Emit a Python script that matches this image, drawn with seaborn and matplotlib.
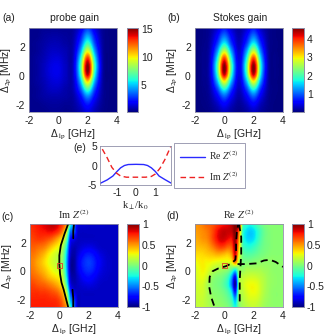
import numpy as np
import seaborn as sns
import matplotlib
matplotlib.use('Agg')
import matplotlib.pyplot as plt

# axis grids of the maps
x_coarse = [-2, -1.5, -1, -0.5, 0, 0.5, 1, 1.5, 2, 2.5, 3, 3.5, 4]
x_fine = [-2, -1.75, -1.5, -1.25, -1, -0.75, -0.5, -0.25, 0, 0.25, 0.5, 0.75, 1, 1.25, 1.5, 1.75, 2, 2.25, 2.5, 2.75, 3, 3.25, 3.5, 3.75, 4]
y_rows = [3.3, 2.77, 2.25, 1.72, 1.19, 0.66, 0.14, -0.39, -0.92, -1.45, -1.97, -2.5]

probe_gain = [
    [0.4, 0.4, 0.5, 0.5, 0.5, 0.5, 0.6, 1.5, 3.0, 1.5, 0.5, 0.3, 0.3],
    [0.4, 0.4, 0.6, 0.7, 0.7, 0.6, 0.7, 2.2, 4.5, 2.2, 0.6, 0.3, 0.3],
    [0.4, 0.5, 0.7, 0.9, 0.9, 0.7, 0.8, 3.0, 6.5, 3.0, 0.7, 0.3, 0.3],
    [0.4, 0.5, 0.8, 1.1, 1.1, 0.9, 0.9, 4.2, 9.5, 4.2, 0.8, 0.3, 0.3],
    [0.4, 0.6, 0.9, 1.3, 1.4, 1.0, 1.0, 5.6, 13.2, 5.6, 0.9, 0.3, 0.3],
    [0.4, 0.6, 1.0, 1.5, 1.6, 1.1, 1.1, 6.4, 15.2, 6.4, 1.0, 0.3, 0.3],
    [0.4, 0.6, 1.0, 1.5, 1.6, 1.1, 1.1, 6.0, 14.6, 5.8, 0.9, 0.3, 0.3],
    [0.4, 0.6, 0.9, 1.3, 1.4, 1.0, 1.0, 4.6, 10.5, 4.4, 0.8, 0.3, 0.3],
    [0.4, 0.5, 0.8, 1.1, 1.1, 0.8, 0.9, 3.2, 6.8, 3.0, 0.7, 0.3, 0.3],
    [0.4, 0.5, 0.7, 0.8, 0.8, 0.7, 0.7, 2.0, 4.0, 2.0, 0.6, 0.3, 0.3],
    [0.4, 0.4, 0.5, 0.6, 0.6, 0.5, 0.6, 1.3, 2.4, 1.3, 0.5, 0.3, 0.3],
    [0.4, 0.4, 0.4, 0.5, 0.5, 0.4, 0.5, 0.9, 1.5, 0.9, 0.4, 0.3, 0.3],
]

stokes_gain = [
    [0.03, 0.05, 0.12, 0.35, 0.7, 0.35, 0.15, 0.35, 0.7, 0.3, 0.1, 0.04, 0.03],
    [0.03, 0.05, 0.14, 0.55, 1.1, 0.55, 0.2, 0.55, 1.1, 0.5, 0.12, 0.04, 0.03],
    [0.03, 0.06, 0.18, 0.8, 1.7, 0.8, 0.25, 0.8, 1.7, 0.75, 0.14, 0.05, 0.03],
    [0.03, 0.07, 0.22, 1.2, 2.7, 1.25, 0.32, 1.25, 2.7, 1.1, 0.17, 0.05, 0.03],
    [0.03, 0.08, 0.27, 1.65, 3.9, 1.7, 0.4, 1.7, 3.9, 1.5, 0.2, 0.06, 0.03],
    [0.03, 0.08, 0.3, 1.95, 4.6, 2.0, 0.45, 2.0, 4.6, 1.75, 0.22, 0.06, 0.03],
    [0.03, 0.08, 0.3, 1.8, 4.4, 1.85, 0.42, 1.85, 4.4, 1.6, 0.2, 0.06, 0.03],
    [0.03, 0.07, 0.24, 1.35, 3.0, 1.35, 0.34, 1.35, 3.0, 1.2, 0.17, 0.05, 0.03],
    [0.03, 0.06, 0.18, 0.85, 1.8, 0.85, 0.25, 0.85, 1.8, 0.75, 0.14, 0.05, 0.03],
    [0.03, 0.05, 0.13, 0.5, 1.0, 0.5, 0.18, 0.5, 1.0, 0.45, 0.1, 0.04, 0.03],
    [0.03, 0.04, 0.09, 0.28, 0.55, 0.28, 0.12, 0.28, 0.55, 0.25, 0.08, 0.03, 0.03],
    [0.03, 0.03, 0.06, 0.16, 0.3, 0.16, 0.08, 0.16, 0.3, 0.15, 0.06, 0.03, 0.03],
]

im_z2 = [
    [.72, .75, .78, .80, .83, .87, .90, .88, .80, .68, .45, -.20, -.50, -.80, -.85, -.85, -.87, -.87, -.87, -.87, -.87, -.88, -.88, -.88, -.88],
    [.70, .72, .75, .77, .78, .80, .80, .76, .68, .52, .20, -.50, -.55, -.85, -.88, -.88, -.88, -.88, -.88, -.88, -.88, -.88, -.88, -.88, -.88],
    [.66, .68, .70, .70, .68, .65, .60, .52, .42, .28, -.05, -.70, -.80, -.88, -.88, -.88, -.88, -.88, -.88, -.88, -.88, -.88, -.88, -.88, -.88],
    [.62, .62, .60, .58, .55, .48, .40, .33, .26, .10, -.25, -.80, -.90, -.88, -.85, -.83, -.82, -.83, -.85, -.87, -.88, -.88, -.88, -.88, -.88],
    [.57, .57, .53, .48, .42, .33, .26, .20, .15, .02, -.35, -.85, -.93, -.85, -.78, -.72, -.70, -.72, -.77, -.82, -.85, -.87, -.88, -.88, -.88],
    [.55, .53, .47, .42, .35, .28, .22, .17, .12, .00, -.40, -.90, -.95, -.82, -.72, -.66, -.63, -.66, -.72, -.78, -.83, -.86, -.87, -.88, -.88],
    [.57, .55, .50, .45, .40, .33, .27, .22, .18, .05, -.38, -.90, -.95, -.83, -.74, -.68, -.66, -.68, -.74, -.80, -.84, -.86, -.87, -.88, -.88],
    [.62, .60, .57, .53, .48, .42, .37, .33, .28, .12, -.30, -.85, -.93, -.87, -.80, -.75, -.73, -.76, -.80, -.84, -.86, -.87, -.88, -.88, -.88],
    [.68, .67, .64, .62, .60, .56, .52, .47, .40, .25, -.15, -.78, -.90, -.88, -.85, -.83, -.82, -.83, -.85, -.87, -.88, -.88, -.88, -.88, -.88],
    [.72, .72, .72, .70, .70, .68, .65, .62, .55, .42, .10, -.60, -.82, -.88, -.88, -.88, -.88, -.88, -.88, -.88, -.88, -.88, -.88, -.88, -.88],
    [.75, .75, .75, .75, .75, .74, .73, .72, .67, .55, .30, -.40, -.60, -.88, -.88, -.88, -.88, -.88, -.88, -.88, -.88, -.88, -.88, -.88, -.88],
    [.76, .76, .76, .76, .76, .76, .76, .75, .72, .62, .45, -.20, -.50, -.88, -.88, -.88, -.88, -.88, -.88, -.88, -.88, -.88, -.88, -.88, -.88],
]

re_z2 = [
    [.50, .52, .55, .60, .62, .65, .70, .75, .78, .82, .90, 1.0, 1.0, -.05, -.20, -.25, -.20, -.12, -.05, .00, .02, .03, .03, .03, .03],
    [.48, .50, .52, .55, .60, .68, .78, .85, .88, .87, .88, .98, .60, -.15, -.30, -.35, -.32, -.22, -.12, -.04, .00, .02, .03, .03, .03],
    [.45, .47, .50, .52, .58, .68, .78, .85, .85, .80, .78, .95, .50, -.15, -.30, -.33, -.30, -.20, -.10, -.03, .00, .02, .03, .03, .03],
    [.42, .42, .43, .45, .50, .57, .65, .70, .68, .62, .65, .92, .40, -.10, -.20, -.22, -.18, -.12, -.06, -.02, .00, .02, .03, .03, .03],
    [.35, .35, .36, .38, .40, .42, .45, .45, .42, .40, .50, .85, .30, -.03, -.10, -.10, -.08, -.05, -.02, .00, .02, .03, .03, .03, .03],
    [.28, .30, .32, .30, .30, .28, .26, .25, .25, .25, .30, .60, .15, .00, .00, .00, .02, .03, .04, .05, .05, .05, .04, .04, .04],
    [.22, .27, .30, .28, .22, .15, .12, .10, .08, .05, -.05, -.20, .05, .05, .10, .10, .10, .10, .10, .08, .07, .05, .04, .04, .04],
    [.20, .25, .27, .22, .12, .05, .02, .00, -.05, -.15, -.40, -.75, .05, .15, .18, .20, .20, .18, .15, .12, .08, .06, .05, .04, .04],
    [.18, .22, .22, .15, .07, .02, .00, -.03, -.10, -.22, -.50, -.95, .05, .18, .25, .28, .28, .25, .18, .13, .08, .06, .05, .04, .04],
    [.17, .20, .20, .15, .08, .03, .02, .00, -.04, -.12, -.30, -.70, .05, .15, .22, .27, .28, .25, .18, .12, .08, .05, .04, .04, .04],
    [.17, .18, .18, .14, .10, .06, .04, .03, .00, -.05, -.15, -.40, .02, .12, .18, .22, .22, .20, .15, .10, .07, .05, .04, .04, .04],
    [.16, .17, .17, .14, .11, .08, .06, .05, .03, .00, -.08, -.25, .00, .10, .14, .17, .18, .16, .12, .08, .06, .05, .04, .04, .04],
]

# contour lines
c_line1_x = [0.6, 0.35, 0.1, 0.0, 0.0, 0.05, 0.15, 0.3, 0.45, 0.6]
c_line1_y = [3.3, 2.6, 1.8, 1.1, 0.5, -0.2, -0.8, -1.3, -1.9, -2.5]
c_line2_x = [1.0, 0.95, 0.95]
c_line2_y = [3.3, 2.8, 2.3]
c_line3_x = [0.9, 0.95, 0.95]
c_line3_y = [-1.3, -1.9, -2.5]

d_line1_x = [-0.7, -0.9, -1.03, -1.0, -0.8, -0.4, 0.1, 0.5, 0.75, 0.8, 0.8, 0.85, 0.95]
d_line1_y = [-2.4, -1.8, -1.1, -0.4, 0.0, 0.2, 0.35, 0.55, 0.8, 1.4, 2.0, 2.7, 3.3]
d_line2_x = [1.0, 1.15, 1.15, 1.1, 1.05, 1.05, 1.05]
d_line2_y = [3.3, 2.4, 1.2, 0.3, -0.6, -1.5, -2.4]
d_line3_x = [0.9, 1.5, 2.2, 2.7, 3.1, 3.5, 4.0]
d_line3_y = [0.5, 0.5, 0.55, 0.75, 0.8, 0.65, 0.3]

marker_x = [0.0]
marker_y = [0.42]

# panel (e)
k_re = [-1.87, -1.5, -1.2, -1.0, -0.8, -0.6, -0.4, 0, 0.4, 0.6, 0.8, 1.0, 1.2, 1.5, 1.82]
re_vals = [-4.6, -3.7, -2.7, -1.6, -0.6, 0.0, 0.25, 0.3, 0.25, 0.0, -0.6, -1.5, -2.7, -3.6, -4.5]
k_im = [-1.75, -1.5, -1.25, -1.0, -0.8, -0.5, 0, 0.5, 0.8, 1.0, 1.25, 1.5, 1.82]
im_vals = [4.2, 2.0, -0.5, -2.0, -2.7, -3.0, -3.0, -3.0, -2.8, -2.2, -0.7, 1.5, 5.0]

WIDTH, HEIGHT = 326, 336
SPINE = '#8f8fa8'
SANS = 'Liberation Sans'
SERIF = 'Liberation Serif'
DASHED = (0, (4, 2.5))

sns.set_theme(style='white')
plt.rcParams['font.family'] = [SANS, 'DejaVu Sans']
plt.rcParams['axes.unicode_minus'] = False
plt.rcParams['mathtext.fontset'] = 'stix'
plt.rcParams['font.size'] = 7.5


def box(left, top, right, bottom):
    return [left / WIDTH, 1 - bottom / HEIGHT, (right - left) / WIDTH, (bottom - top) / HEIGHT]


fig = plt.figure(figsize=(WIDTH / 100, HEIGHT / 100), dpi=100)


def draw_map(rect, cbar_rect, xs, ys, values, vmin, vmax, cbar_ticks, cbar_labels):
    ax = fig.add_axes(box(*rect))
    cax = fig.add_axes(box(*cbar_rect))
    values = np.array(values)
    sns.heatmap(values, ax=ax, cbar_ax=cax, cmap='jet', vmin=vmin, vmax=vmax, xticklabels=False, yticklabels=False)
    # smooth the cells, seaborn draws them as flat blocks. catrom passes through the values, bicubic blurs them
    ax.imshow(values, cmap='jet', vmin=vmin, vmax=vmax, aspect='auto', interpolation='catrom',
              interpolation_stage='data', extent=(0, values.shape[1], values.shape[0], 0), zorder=2)
    ax.set_xlim(0.5, values.shape[1] - 0.5)
    ax.set_ylim(values.shape[0] - 0.5, 0.5)

    to_x = lambda v: (np.array(v) - xs[0]) / (xs[1] - xs[0]) + 0.5
    to_y = lambda v: (ys[0] - np.array(v)) / (ys[0] - ys[-1]) * (len(ys) - 1) + 0.5

    ax.set_xticks(to_x([-2, 0, 2, 4]))
    ax.set_xticklabels(['-2', '0', '2', '4'])
    ax.set_yticks(to_y([-2, 0, 2]))
    ax.set_yticklabels(['-2', '0', '2'], rotation=0)
    ax.tick_params(length=0, labelsize=7.5, pad=3, colors='#222222')
    ax.set_xlabel('Δ$_{\\mathrm{1p}}$ [GHz]', fontsize=7.5, labelpad=1, color='#222222')
    ax.set_ylabel('Δ$_{\\mathrm{2p}}$ [MHz]', fontsize=7.5, labelpad=1, color='#222222')
    for s in ax.spines.values():
        s.set_visible(True)
        s.set_color(SPINE)
        s.set_linewidth(0.6)
        s.set_zorder(5)

    cax.set_yticks(cbar_ticks)
    cax.set_yticklabels(cbar_labels)
    cax.tick_params(length=0, labelsize=7.5, pad=2, colors='#222222')
    for s in cax.spines.values():
        s.set_visible(True)
        s.set_color(SPINE)
        s.set_linewidth(0.6)
    return ax, to_x, to_y


def contour(ax, to_x, to_y, xs, ys, style):
    sns.lineplot(x=to_x(xs), y=to_y(ys), ax=ax, color='black', linewidth=1.3, linestyle=style,
                 estimator=None, sort=False, legend=False, zorder=3)


# (a)
draw_map((29, 28, 117, 112), (127, 28, 138, 112), x_coarse, y_rows, probe_gain, 0.2, 15.2,
         [5, 10, 15], ['5', '10', '15'])
# (b)
draw_map((195, 28, 283, 112), (292, 28, 304, 112), x_coarse, y_rows, stokes_gain, 0.02, 4.6,
         [1, 2, 3, 4], ['1', '2', '3', '4'])
# (c)
ax_c, cx, cy = draw_map((30, 224, 118, 307), (127, 224, 139, 307), x_fine, y_rows, im_z2, -1, 1,
                        [-1, -0.5, 0, 0.5, 1], ['-1', '-0.5', '0', '0.5', '1'])
contour(ax_c, cx, cy, c_line1_x, c_line1_y, '-')
contour(ax_c, cx, cy, c_line2_x, c_line2_y, '-')
contour(ax_c, cx, cy, c_line3_x, c_line3_y, '-')
sns.scatterplot(x=cx(marker_x), y=cy(marker_y), ax=ax_c, marker='s', s=12, facecolor='none', edgecolor='#e0402a',
                linewidth=0.6, legend=False, zorder=4)
# (d)
ax_d, dx, dy = draw_map((195, 224, 283, 307), (292, 224, 304, 307), x_fine, y_rows, re_z2, -1, 1,
                        [-1, -0.5, 0, 0.5, 1], ['-1', '-0.5', '0', '0.5', '1'])
contour(ax_d, dx, dy, d_line1_x, d_line1_y, DASHED)
contour(ax_d, dx, dy, d_line2_x, d_line2_y, DASHED)
contour(ax_d, dx, dy, d_line3_x, d_line3_y, DASHED)
sns.scatterplot(x=dx(marker_x), y=dy(marker_y), ax=ax_d, marker='s', s=12, facecolor='none', edgecolor='#e0402a',
                linewidth=0.6, legend=False, zorder=4)

# (e)
ax_e = fig.add_axes(box(100, 146, 171, 185))
sns.lineplot(x=k_re, y=re_vals, ax=ax_e, color='#2a2aff', linewidth=1.0, estimator=None, sort=False,
             label='Re $Z^{(2)}$')
sns.lineplot(x=k_im, y=im_vals, ax=ax_e, color='#ee2222', linewidth=1.0, linestyle=DASHED, estimator=None,
             sort=False, label='Im $Z^{(2)}$')
ax_e.set_xlim(-1.87, 1.82)
ax_e.set_ylim(-5, 5)
ax_e.set_xticks([-1, 0, 1])
ax_e.set_xticklabels(['-1', '0', '1'])
ax_e.set_yticks([-5, 0, 5])
ax_e.set_yticklabels(['-5', '0', '5'])
ax_e.tick_params(length=0, labelsize=7.5, pad=2, colors='#222222')
ax_e.set_xlabel('k$_{\\perp}$/k$_{0}$', fontsize=7.5, family=SERIF, labelpad=1, color='#222222')
for s in ax_e.spines.values():
    s.set_visible(True)
    s.set_color(SPINE)
    s.set_linewidth(0.6)
leg = ax_e.legend(loc='center', bbox_to_anchor=box(176, 146, 243, 185), bbox_transform=fig.transFigure,
                  prop={'family': SERIF, 'size': 7}, frameon=True, fancybox=False, edgecolor=SPINE, framealpha=1,
                  handlelength=2.6, handletextpad=0.4, labelspacing=0.7, borderpad=0.6, borderaxespad=0)
leg.get_frame().set_linewidth(0.6)


# panel letters and titles
def label(px, py, text, **kw):
    fig.text(px / WIDTH, 1 - py / HEIGHT, text, fontsize=7.5, color='#222222', va='center', **kw)


label(2, 18, '(a)')
label(167, 18, '(b)')
label(73, 148, '(e)')
label(1, 217, '(c)')
label(166, 216, '(d)')
label(74, 18, 'probe gain', ha='center')
label(240, 18, 'Stokes gain', ha='center')
label(74, 214, 'Im $Z^{(2)}$', ha='center', family=SERIF)
label(239, 214, 'Re $Z^{(2)}$', ha='center', family=SERIF)

fig.savefig('out.png', dpi=100)
